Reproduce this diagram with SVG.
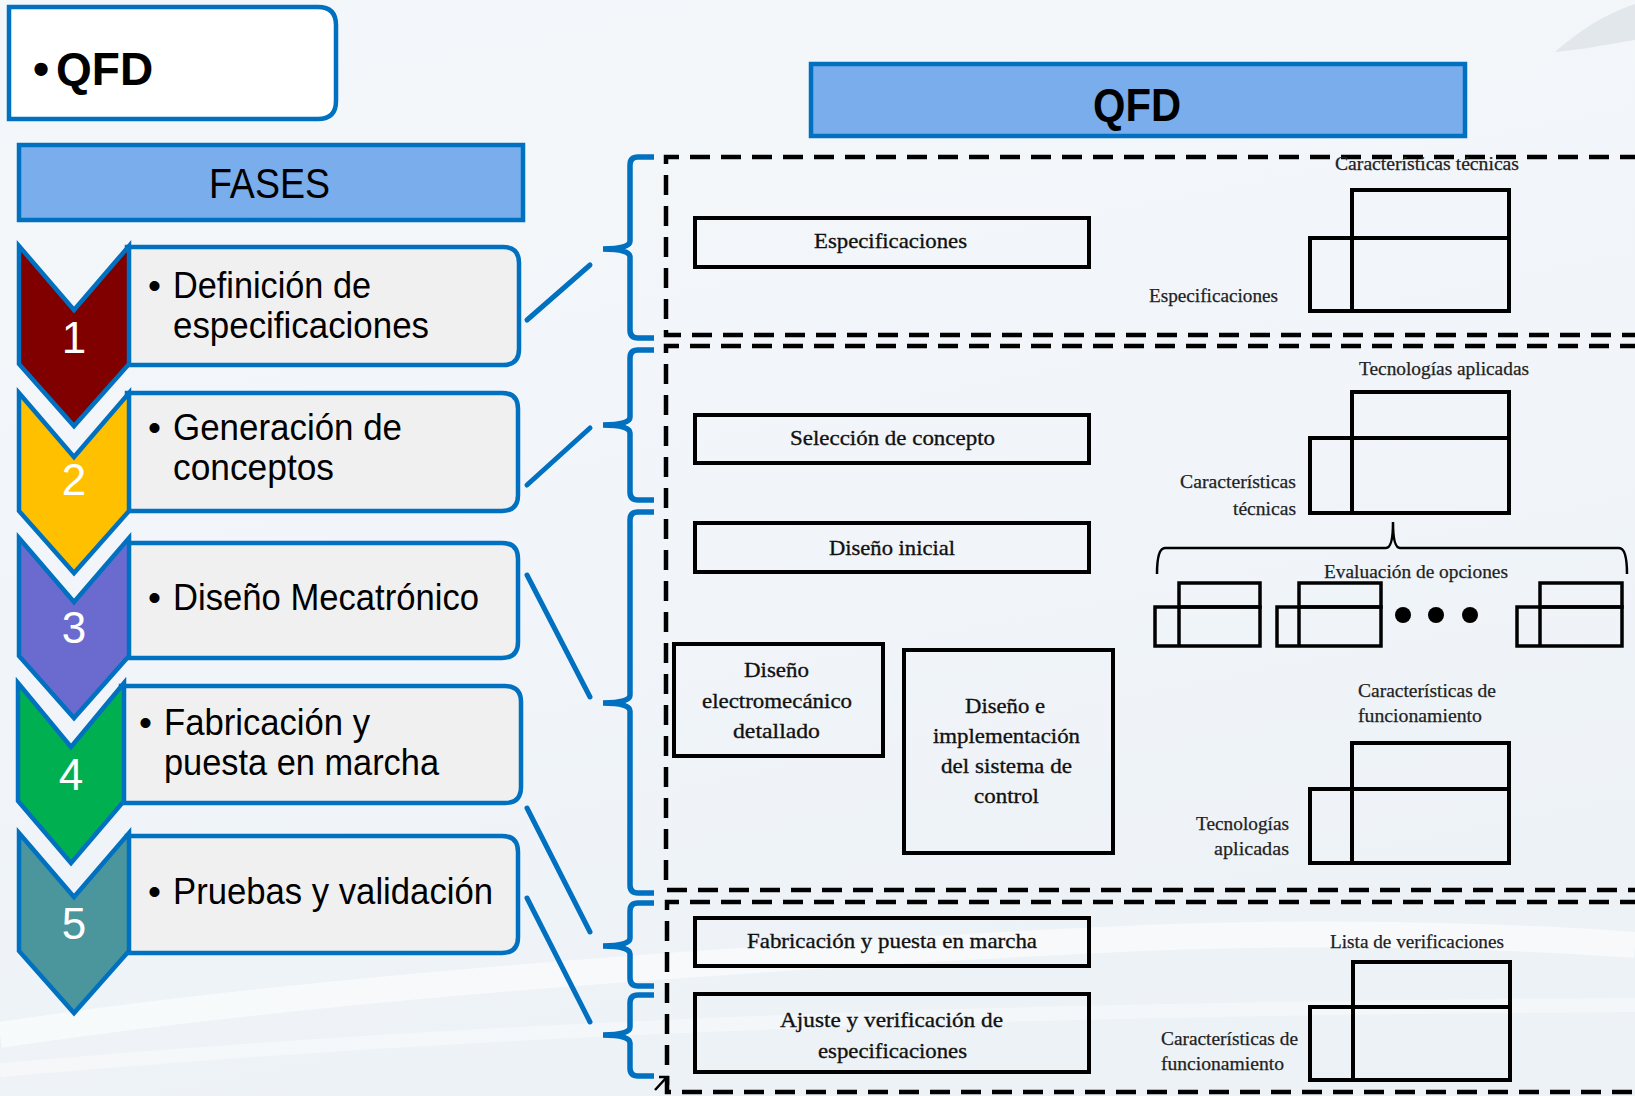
<svg xmlns="http://www.w3.org/2000/svg" width="1635" height="1096" viewBox="0 0 1635 1096">
  <defs>
    <linearGradient id="bg" x1="0" y1="0" x2="0.3" y2="1">
      <stop offset="0" stop-color="#F4F7FA"/>
      <stop offset="0.6" stop-color="#F1F5F9"/>
      <stop offset="1" stop-color="#EDF2F6"/>
    </linearGradient>
    <style>
      .hdr { fill:#7AADEB; stroke:#0070C0; stroke-width:4.5; }
      .hdr-text { font-family:"Liberation Sans", Arial, sans-serif; fill:#000; }
      .phase-box { fill:#F0F0F0; stroke:#0070C0; stroke-width:4.5; }
      .chev { stroke:#0070C0; stroke-width:4.5; stroke-linejoin:miter; }
      .num { font-family:"Liberation Sans", Arial, sans-serif; font-size:44px; fill:#FFFFFF; text-anchor:middle; }
      .row-text { font-family:"Liberation Sans", Arial, sans-serif; font-size:37px; fill:#000; }
      .conn { stroke:#0070C0; stroke-width:5; stroke-linecap:round; fill:none; }
      .brk { fill:none; stroke:#0070C0; stroke-width:5.5; }
      .dash { fill:none; stroke:#000; stroke-width:4.5; stroke-dasharray:20 11; }
      .box { fill:none; stroke:#000; stroke-width:4; }
      .lbl { font-family:"Liberation Serif", "Times New Roman", serif; font-size:22px; fill:#111; stroke:#111; stroke-width:0.35; }
      .sm { font-family:"Liberation Serif", "Times New Roman", serif; font-size:19px; fill:#222; stroke:#222; stroke-width:0.25; }
      .mx { fill:none; stroke:#000; stroke-width:4; }
      .mx-sm { fill:none; stroke:#000; stroke-width:3.5; }
    </style>
  </defs>

  <!-- background -->
  <rect x="0" y="0" width="1635" height="1096" fill="url(#bg)"/>
  <path d="M0 1035 C 300 990, 700 960, 1100 940 C 1300 930, 1500 935, 1635 945" fill="none" stroke="#FFFFFF" stroke-width="26" opacity="0.55"/>
  <path d="M0 1070 C 350 1040, 800 1010, 1635 1005" fill="none" stroke="#FFFFFF" stroke-width="14" opacity="0.4"/>
  <path d="M1555 52 C 1580 30, 1605 14, 1635 4 L1635 40 C 1610 44, 1580 50, 1555 52 Z" fill="#DCE1E6" opacity="0.7"/>

  <!-- title box -->
  <g id="title-qfd">
    <path d="M9 7 H318 Q336 7 336 25 V101 Q336 119 318 119 H9 Z" fill="#FFFFFF" stroke="#0070C0" stroke-width="4.5"/>
    <text class="hdr-text" x="33" y="85" font-size="46" font-weight="bold">•<tspan x="56">QFD</tspan></text>
  </g>

  <!-- FASES header -->
  <g id="header-fases">
    <rect class="hdr" x="19" y="145" width="504" height="75"/>
    <text class="hdr-text" x="209" y="198" font-size="42" textLength="121" lengthAdjust="spacingAndGlyphs">FASES</text>
  </g>

  <!-- QFD header -->
  <g id="header-qfd">
    <rect class="hdr" x="811" y="64" width="654" height="72"/>
    <text class="hdr-text" x="1093" y="121" font-size="46" font-weight="bold" textLength="88" lengthAdjust="spacingAndGlyphs">QFD</text>
  </g>

  <!-- phase 1 -->
  <g id="phase-1">
    <path class="phase-box" d="M127 247 H503 Q519 247 519 263 V349 Q519 365 503 365 H127 Z"/>
    <polygon class="chev" fill="#800000" points="19,246 74,310 129,246 129,364 74,426 19,364"/>
    <text class="num" x="74" y="353">1</text>
    <text class="row-text" x="148" y="298">•</text>
    <text class="row-text" x="173" y="298" textLength="198" lengthAdjust="spacingAndGlyphs">Definición de</text>
    <text class="row-text" x="173" y="338" textLength="256" lengthAdjust="spacingAndGlyphs">especificaciones</text>
  </g>

  <!-- phase 2 -->
  <g id="phase-2">
    <path class="phase-box" d="M127 393 H502 Q518 393 518 409 V495 Q518 511 502 511 H127 Z"/>
    <polygon class="chev" fill="#FFC000" points="19,393 74,457 129,393 129,511 74,573 19,511"/>
    <text class="num" x="74" y="495">2</text>
    <text class="row-text" x="148" y="440">•</text>
    <text class="row-text" x="173" y="440" textLength="229" lengthAdjust="spacingAndGlyphs">Generación de</text>
    <text class="row-text" x="173" y="480" textLength="161" lengthAdjust="spacingAndGlyphs">conceptos</text>
  </g>

  <!-- phase 3 -->
  <g id="phase-3">
    <path class="phase-box" d="M127 543 H502 Q518 543 518 559 V642 Q518 658 502 658 H127 Z"/>
    <polygon class="chev" fill="#6A6ACF" points="19,538 74,602 129,538 129,656 74,718 19,656"/>
    <text class="num" x="74" y="643">3</text>
    <text class="row-text" x="148" y="610">•</text>
    <text class="row-text" x="173" y="610" textLength="306" lengthAdjust="spacingAndGlyphs">Diseño Mecatrónico</text>
  </g>

  <!-- phase 4 -->
  <g id="phase-4">
    <path class="phase-box" d="M121 686 H505 Q521 686 521 702 V787 Q521 803 505 803 H121 Z"/>
    <polygon class="chev" fill="#00B050" points="18,683 71,747 124,683 124,801 71,863 18,801"/>
    <text class="num" x="71" y="790">4</text>
    <text class="row-text" x="139" y="735">•</text>
    <text class="row-text" x="164" y="735" textLength="206" lengthAdjust="spacingAndGlyphs">Fabricación y</text>
    <text class="row-text" x="164" y="775" textLength="275" lengthAdjust="spacingAndGlyphs">puesta en marcha</text>
  </g>

  <!-- phase 5 -->
  <g id="phase-5">
    <path class="phase-box" d="M127 836 H502 Q518 836 518 852 V937 Q518 953 502 953 H127 Z"/>
    <polygon class="chev" fill="#4A969C" points="19,833 74,897 129,833 129,951 74,1013 19,951"/>
    <text class="num" x="74" y="939">5</text>
    <text class="row-text" x="148" y="904">•</text>
    <text class="row-text" x="173" y="904" textLength="320" lengthAdjust="spacingAndGlyphs">Pruebas y validación</text>
  </g>

  <!-- connectors: phase boxes to braces -->
  <g id="connectors">
    <line class="conn" x1="527" y1="320" x2="590" y2="265"/>
    <line class="conn" x1="527" y1="485" x2="590" y2="428"/>
    <line class="conn" x1="527" y1="575" x2="590" y2="697"/>
    <line class="conn" x1="527" y1="808" x2="590" y2="932"/>
    <line class="conn" x1="527" y1="898" x2="590" y2="1022"/>
    <!-- braces -->
    <path class="brk" d="M654 157 H638 Q630 157 630 165 V241 Q630 249 603 249 M603 249 Q630 249 630 257 V330 Q630 338 638 338 H654"/>
    <path class="brk" d="M654 350 H638 Q630 350 630 358 V417 Q630 425 603 425 M603 425 Q630 425 630 433 V492 Q630 500 638 500 H654"/>
    <path class="brk" d="M654 512 H638 Q630 512 630 520 V695 Q630 703 603 703 M603 703 Q630 703 630 711 V885 Q630 893 638 893 H654"/>
    <path class="brk" d="M654 903 H638 Q630 903 630 911 V938 Q630 946 603 946 M603 946 Q630 946 630 954 V978 Q630 986 638 986 H654"/>
    <path class="brk" d="M654 995 H638 Q630 995 630 1003 V1027 Q630 1035 603 1035 M603 1035 Q630 1035 630 1043 V1068 Q630 1076 638 1076 H654"/>
  </g>

  <!-- dashed stage frames -->
  <g id="stage-frames">
    <path class="dash" d="M1640 157 H666 V335 H1640"/>
    <path class="dash" d="M1640 346 H666 V890 H1640"/>
    <path class="dash" d="M1640 902 H667 V1092 H1640"/>
    <path d="M655 1090 L666 1078 M659 1077 H668 V1085" fill="none" stroke="#000" stroke-width="2.5"/>
  </g>

  <!-- stage 1 -->
  <g id="node-especificaciones">
    <rect class="box" x="695" y="218" width="394" height="49"/>
    <text class="lbl" x="814" y="248" textLength="153" lengthAdjust="spacingAndGlyphs">Especificaciones</text>
  </g>
  <g id="matrix-1">
    <rect class="mx" x="1352" y="190" width="157" height="48"/>
    <rect class="mx" x="1310" y="238" width="199" height="73"/>
    <line class="mx" x1="1352" y1="238" x2="1352" y2="311"/>
    <text class="sm" x="1335" y="170" textLength="184" lengthAdjust="spacingAndGlyphs">Características técnicas</text>
    <text class="sm" x="1149" y="302" textLength="129" lengthAdjust="spacingAndGlyphs">Especificaciones</text>
  </g>

  <!-- stage 2 -->
  <g id="node-seleccion">
    <rect class="box" x="695" y="415" width="394" height="48"/>
    <text class="lbl" x="790" y="445" textLength="205" lengthAdjust="spacingAndGlyphs">Selección de concepto</text>
  </g>
  <g id="node-diseno-inicial">
    <rect class="box" x="695" y="523" width="394" height="49"/>
    <text class="lbl" x="829" y="555" textLength="126" lengthAdjust="spacingAndGlyphs">Diseño inicial</text>
  </g>
  <g id="node-diseno-electromecanico">
    <rect class="box" x="674" y="644" width="209" height="112"/>
    <text class="lbl" x="744" y="677" textLength="65" lengthAdjust="spacingAndGlyphs">Diseño</text>
    <text class="lbl" x="702" y="708" textLength="150" lengthAdjust="spacingAndGlyphs">electromecánico</text>
    <text class="lbl" x="733" y="738" textLength="87" lengthAdjust="spacingAndGlyphs">detallado</text>
  </g>
  <g id="node-sistema-control">
    <rect class="box" x="904" y="650" width="209" height="203"/>
    <text class="lbl" x="965" y="713" textLength="80" lengthAdjust="spacingAndGlyphs">Diseño e</text>
    <text class="lbl" x="933" y="743" textLength="147" lengthAdjust="spacingAndGlyphs">implementación</text>
    <text class="lbl" x="941" y="773" textLength="131" lengthAdjust="spacingAndGlyphs">del sistema de</text>
    <text class="lbl" x="974" y="803" textLength="65" lengthAdjust="spacingAndGlyphs">control</text>
  </g>
  <g id="matrix-2">
    <rect class="mx" x="1352" y="392" width="157" height="46"/>
    <rect class="mx" x="1310" y="438" width="199" height="75"/>
    <line class="mx" x1="1352" y1="438" x2="1352" y2="513"/>
    <text class="sm" x="1359" y="375" textLength="170" lengthAdjust="spacingAndGlyphs">Tecnologías aplicadas</text>
    <text class="sm" x="1180" y="488" textLength="116" lengthAdjust="spacingAndGlyphs">Características</text>
    <text class="sm" x="1233" y="515" textLength="63" lengthAdjust="spacingAndGlyphs">técnicas</text>
  </g>
  <g id="options-evaluation">
    <path d="M1157 574 Q1157 548 1165 548 H1386 Q1393 548 1393 522 Q1393 548 1400 548 H1619 Q1627 548 1627 574" fill="none" stroke="#000" stroke-width="2.5"/>
    <text class="sm" x="1324" y="578" textLength="184" lengthAdjust="spacingAndGlyphs">Evaluación de opciones</text>
    <rect class="mx-sm" x="1179" y="583" width="81" height="24"/>
    <rect class="mx-sm" x="1155" y="607" width="105" height="39"/>
    <line class="mx-sm" x1="1179" y1="607" x2="1179" y2="646"/>
    <rect class="mx-sm" x="1299" y="583" width="82" height="24"/>
    <rect class="mx-sm" x="1277" y="607" width="104" height="39"/>
    <line class="mx-sm" x1="1299" y1="607" x2="1299" y2="646"/>
    <circle cx="1403" cy="615" r="8" fill="#000"/>
    <circle cx="1436" cy="615" r="8" fill="#000"/>
    <circle cx="1470" cy="615" r="8" fill="#000"/>
    <rect class="mx-sm" x="1540" y="583" width="82" height="24"/>
    <rect class="mx-sm" x="1517" y="607" width="105" height="39"/>
    <line class="mx-sm" x1="1540" y1="607" x2="1540" y2="646"/>
  </g>
  <g id="matrix-3">
    <rect class="mx" x="1352" y="743" width="157" height="46"/>
    <rect class="mx" x="1310" y="789" width="199" height="74"/>
    <line class="mx" x1="1352" y1="789" x2="1352" y2="863"/>
    <text class="sm" x="1358" y="697" textLength="138" lengthAdjust="spacingAndGlyphs">Características de</text>
    <text class="sm" x="1358" y="722" textLength="124" lengthAdjust="spacingAndGlyphs">funcionamiento</text>
    <text class="sm" x="1196" y="830" textLength="93" lengthAdjust="spacingAndGlyphs">Tecnologías</text>
    <text class="sm" x="1214" y="855" textLength="75" lengthAdjust="spacingAndGlyphs">aplicadas</text>
  </g>

  <!-- stage 3 -->
  <g id="node-fabricacion">
    <rect class="box" x="695" y="918" width="394" height="48"/>
    <text class="lbl" x="747" y="948" textLength="290" lengthAdjust="spacingAndGlyphs">Fabricación y puesta en marcha</text>
  </g>
  <g id="node-ajuste">
    <rect class="box" x="695" y="994" width="394" height="78"/>
    <text class="lbl" x="780" y="1027" textLength="223" lengthAdjust="spacingAndGlyphs">Ajuste y verificación de</text>
    <text class="lbl" x="818" y="1058" textLength="149" lengthAdjust="spacingAndGlyphs">especificaciones</text>
  </g>
  <g id="matrix-4">
    <rect class="mx" x="1353" y="962" width="157" height="45"/>
    <rect class="mx" x="1310" y="1007" width="200" height="73"/>
    <line class="mx" x1="1353" y1="1007" x2="1353" y2="1080"/>
    <text class="sm" x="1330" y="948" textLength="174" lengthAdjust="spacingAndGlyphs">Lista de verificaciones</text>
    <text class="sm" x="1161" y="1045" textLength="137" lengthAdjust="spacingAndGlyphs">Características de</text>
    <text class="sm" x="1161" y="1070" textLength="123" lengthAdjust="spacingAndGlyphs">funcionamiento</text>
  </g>
</svg>
